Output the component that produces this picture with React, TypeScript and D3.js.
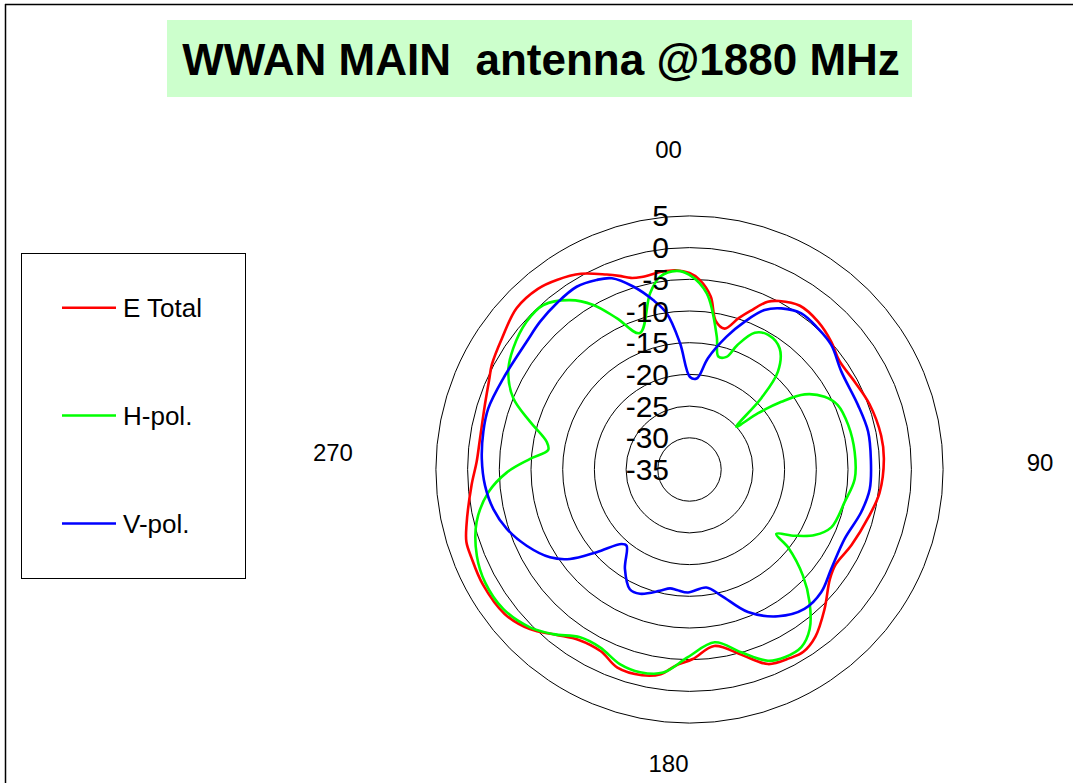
import React from "react";
import * as d3 from "d3";

const title = "WWAN MAIN  antenna @1880 MHz";
const ringValues = [5, 0, -5, -10, -15, -20, -25, -30, -35];
const angleLabels = ["00", "90", "180", "270"];
const seriesNames = ["E Total", "H-pol.", "V-pol."];
const seriesColors = ["#ff0000", "#00ff00", "#0000ff"];

// [angle (deg, clockwise from top), dB]
const eTotal: [number, number][] = [
  [0, -4.0], [3, -5.0], [7, -7.5], [10, -11.2], [14, -12.1], [18, -9.9], [21, -8.2], [25, -5.8],
  [28, -4.9], [34, -3.85], [41, -4.1], [48, -4.9], [54, -5.8], [62, -5.5], [70, -4.8], [80, -4.3],
  [87, -4.3], [97, -4.8], [105, -5.8], [115, -6.8], [123, -7.5], [128, -6.9], [136, -4.35], [143, -2.0],
  [148, -1.1], [152, -1.3], [158, -1.9], [164, -4.5], [172, -6.9], [179, -5.1], [184, -4.0], [188, -2.4],
  [193, -1.7], [200, -1.75], [206, -3.1], [213, -2.95], [219, -1.45], [225, 0.6], [232, 2.0], [241, 2.3],
  [248, 2.1], [252, 2.0], [256, 1.25], [266, -0.55], [272, -1.4], [278, -1.6], [287, -1.2], [294, -0.4],
  [298, 0.3], [305, 1.1], [313, 2.3], [320, 2.2], [325, 1.5], [331, 0.3], [337, -1.6], [340, -2.5],
  [343, -3.4], [346, -3.7], [352, -3.5], [356, -3.5],
];

const hPol: [number, number][] = [
  [0, -4.3], [5.6, -7.1], [11.6, -13.6], [14.3, -16.6], [18.2, -16.3], [21, -14.0], [25.5, -11.1],
  [30.3, -10.4], [36.7, -11.2], [42.1, -14.2], [45.2, -19.05], [47.6, -25.0], [50.6, -21.0], [53.6, -17.0],
  [56.9, -13.3], [61.7, -10.8], [66.5, -9.5], [74.3, -9.0], [83.9, -8.8], [93.3, -8.9], [101.9, -10.0],
  [112.2, -10.85], [117.6, -12.7], [122.2, -15.4], [126.6, -17.95], [128.3, -15.2], [133.1, -10.5],
  [137.9, -6.75], [143, -3.5], [147.8, -1.9], [153.1, -1.8], [157.7, -2.4], [164.2, -5.03], [171.7, -7.46],
  [180.5, -5.4], [187.4, -2.7], [193.7, -2.1], [199.7, -2.4], [206.7, -3.6], [213.1, -3.4], [219.6, -1.3],
  [225.3, 0.4], [233.2, 1.7], [241.1, 1.83], [247.9, 1.2], [256.1, -0.4], [263.5, -3.06], [269.1, -6.2],
  [273.8, -9.8], [277.9, -12.5], [281, -12.05], [286.7, -8.74], [292, -5.03], [298.4, -2.5], [304.5, -1.26],
  [312.2, -0.3], [318.4, -0.3], [324.8, -2.3], [329.7, -4.94], [334.3, -8.5], [340, -12.1], [347.4, -6.5],
  [351.3, -4.24], [356.3, -3.6],
];

const vPol: [number, number][] = [
  [0.3, -20.4], [4.5, -20.6], [9.4, -17.2], [15.6, -13.25], [20.5, -10.1], [25.2, -7.2], [29.7, -5.74],
  [35.6, -4.7], [42.3, -4.9], [48.7, -5.24], [57.2, -6.5], [69, -6.55], [78, -6.2], [87, -6.35],
  [96.2, -6.4], [104, -7.1], [114.1, -8.2], [125, -7.7], [133, -6.6], [140.5, -6.5], [148.9, -7.96],
  [157.7, -10.7], [165.9, -14.5], [171.9, -16.2], [180.7, -15.6], [186, -15.9], [189.3, -16.0],
  [193.7, -15.3], [201.7, -13.9], [206.5, -13.9], [213, -16.3], [219.5, -19.4], [222.3, -19.1],
  [228.3, -15.4], [233.2, -11.45], [237.8, -9.0], [244.9, -6.64], [252, -4.7], [258.6, -3.44],
  [265.5, -2.65], [272.9, -2.2], [280.4, -1.94], [286.9, -1.83], [296.1, -2.3], [308.1, -2.35],
  [314.7, -1.85], [321.4, -1.44], [328.3, -1.12], [333.9, -1.7], [337.9, -2.44], [342.9, -4.8],
  [347.9, -7.67], [351.7, -10.1], [355.7, -15.0],
];

const seriesData = [eTotal, hPol, vPol];

export default function App() {
  const W = 1073;
  const H = 783;
  const cx = 689.5;
  const cy = 469.5;
  const R = 253.6;
  const r = d3.scaleLinear().domain([-35, 5]).range([0, R]);
  const line = d3
    .lineRadial<[number, number]>()
    .angle((d) => (d[0] * Math.PI) / 180)
    .radius((d) => r(d[1]))
    .curve(d3.curveCatmullRomClosed.alpha(0.5));

  const font = "Arial, 'Liberation Sans', Helvetica, sans-serif";
  const anglePos = [
    { x: cx - 21, y: cy - R - 66 },
    { x: cx + R + 97, y: cy - 7 },
    { x: cx - 21, y: cy + R + 40 },
    { x: cx - R - 103, y: cy - 17 },
  ];
  const legendY = [307.7, 415.5, 523.5];

  return (
    <svg
      width={W}
      height={H}
      style={{ position: "absolute", left: 0, top: 0, background: "#fff" }}
      fontFamily={font}
    >
      <rect x={0} y={0} width={W} height={H} fill="#fff" />
      <line x1={5} y1={4.5} x2={W} y2={4.5} stroke="#000" strokeWidth={1.5} />
      <line x1={5.5} y1={4} x2={5.5} y2={H} stroke="#000" strokeWidth={1.5} />

      <rect x={167} y={20} width={745} height={77} fill="#ccffcc" />
      <text
        x={541}
        y={59}
        textAnchor="middle"
        dominantBaseline="central"
        fontSize={44}
        fontWeight="bold"
        fill="#000"
        style={{ whiteSpace: "pre" }}
        xmlSpace="preserve"
      >
        {title}
      </text>

      <g transform={`translate(${cx},${cy})`}>
        {ringValues
          .filter((v) => r(v) > 0)
          .map((v) => (
            <circle key={v} r={r(v)} fill="none" stroke="#000" strokeWidth={1} />
          ))}
        {seriesData.map((d, i) => (
          <path key={i} d={line(d) || ""} fill="none" stroke={seriesColors[i]} strokeWidth={2.6} strokeLinejoin="round" />
        ))}
        {ringValues.map((v) => (
          <text key={v} x={-20.5} y={-r(v)} textAnchor="end" dominantBaseline="central" fontSize={30} fill="#000">
            {v}
          </text>
        ))}
      </g>

      {angleLabels.map((t, i) => (
        <text key={t} x={anglePos[i].x} y={anglePos[i].y} textAnchor="middle" dominantBaseline="central" fontSize={24} fill="#000">
          {t}
        </text>
      ))}

      <rect x={21.5} y={253.5} width={224} height={325} fill="#fff" stroke="#000" strokeWidth={1} />
      {seriesNames.map((n, i) => (
        <g key={n}>
          <line x1={62} x2={116} y1={legendY[i]} y2={legendY[i]} stroke={seriesColors[i]} strokeWidth={2.6} />
          <text x={123} y={legendY[i]} dominantBaseline="central" fontSize={26} fill="#000">
            {n}
          </text>
        </g>
      ))}
    </svg>
  );
}
